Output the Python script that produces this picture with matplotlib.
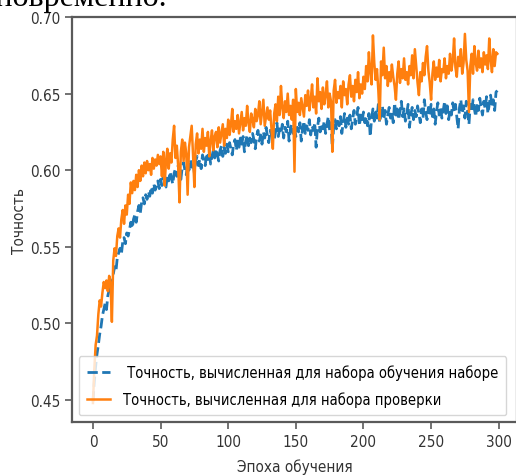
import matplotlib
matplotlib.use("Agg")
import matplotlib.pyplot as plt
from matplotlib import font_manager

epochs = list(range(300))

val_acc = [
    0.448, 0.470, 0.486, 0.492, 0.506, 0.515, 0.511, 0.520, 0.527, 0.523,
    0.528, 0.521, 0.531, 0.526, 0.501, 0.541, 0.549, 0.544, 0.557, 0.562,
    0.556, 0.568, 0.574, 0.565, 0.577, 0.571, 0.584, 0.578, 0.592, 0.585,
    0.593, 0.587, 0.597, 0.589, 0.600, 0.593, 0.603, 0.596, 0.605, 0.598,
    0.606, 0.600, 0.604, 0.597, 0.608, 0.601, 0.607, 0.603, 0.610, 0.604,
    0.609, 0.596, 0.612, 0.590, 0.606, 0.614, 0.601, 0.611, 0.605, 0.620,
    0.629, 0.608, 0.616, 0.603, 0.579, 0.612, 0.620, 0.606, 0.618, 0.611,
    0.584, 0.615, 0.622, 0.629, 0.610, 0.589, 0.617, 0.624, 0.611, 0.620,
    0.614, 0.627, 0.612, 0.621, 0.616, 0.625, 0.609, 0.619, 0.626, 0.613,
    0.622, 0.625, 0.615, 0.628, 0.618, 0.624, 0.630, 0.616, 0.627, 0.621,
    0.633, 0.623, 0.629, 0.640, 0.625, 0.632, 0.627, 0.636, 0.624, 0.631,
    0.638, 0.626, 0.634, 0.629, 0.642, 0.631, 0.625, 0.637, 0.633, 0.628,
    0.640, 0.632, 0.636, 0.645, 0.630, 0.638, 0.646, 0.629, 0.635, 0.641,
    0.633, 0.639, 0.627, 0.614, 0.637, 0.643, 0.632, 0.648, 0.636, 0.655,
    0.641, 0.634, 0.645, 0.638, 0.650, 0.636, 0.642, 0.633, 0.646, 0.599,
    0.653, 0.638, 0.644, 0.636, 0.647, 0.641, 0.635, 0.649, 0.642, 0.652,
    0.639, 0.646, 0.656, 0.641, 0.648, 0.637, 0.660, 0.645, 0.651, 0.640,
    0.654, 0.643, 0.649, 0.658, 0.641, 0.650, 0.645, 0.612, 0.652, 0.659,
    0.644, 0.651, 0.647, 0.655, 0.641, 0.658, 0.649, 0.653, 0.643, 0.656,
    0.662, 0.648, 0.655, 0.645, 0.659, 0.651, 0.664, 0.647, 0.656, 0.650,
    0.661, 0.653, 0.668, 0.658, 0.677, 0.664, 0.656, 0.688, 0.670, 0.659,
    0.666, 0.652, 0.633, 0.671, 0.662, 0.680, 0.660, 0.668, 0.655, 0.664,
    0.658, 0.669, 0.661, 0.655, 0.646, 0.663, 0.671, 0.657, 0.666, 0.660,
    0.673, 0.659, 0.664, 0.656, 0.668, 0.662, 0.675, 0.660, 0.679, 0.668,
    0.657, 0.649, 0.664, 0.658, 0.670, 0.662, 0.674, 0.681, 0.665, 0.657,
    0.646, 0.663, 0.671, 0.659, 0.667, 0.661, 0.672, 0.658, 0.666, 0.664,
    0.673, 0.660, 0.668, 0.663, 0.676, 0.665, 0.671, 0.686, 0.667, 0.661,
    0.674, 0.668, 0.679, 0.663, 0.670, 0.689, 0.672, 0.665, 0.638, 0.668,
    0.676, 0.663, 0.681, 0.670, 0.665, 0.678, 0.667, 0.673, 0.664, 0.677,
    0.669, 0.675, 0.666, 0.686, 0.672, 0.664, 0.679, 0.668, 0.677, 0.676,
]

train_acc = [
    0.449, 0.462, 0.472, 0.480, 0.486, 0.493, 0.498, 0.505, 0.509, 0.513,
    0.509, 0.518, 0.522, 0.527, 0.525, 0.532, 0.537, 0.534, 0.543, 0.546,
    0.549, 0.545, 0.553, 0.556, 0.552, 0.559, 0.557, 0.561, 0.566, 0.562,
    0.568, 0.571, 0.566, 0.573, 0.577, 0.572, 0.579, 0.582, 0.578, 0.584,
    0.581, 0.586, 0.583, 0.589, 0.585, 0.591, 0.587, 0.590, 0.593, 0.588,
    0.594, 0.590, 0.596, 0.592, 0.589, 0.597, 0.593, 0.599, 0.595, 0.591,
    0.598, 0.601, 0.596, 0.603, 0.599, 0.594, 0.602, 0.605, 0.600, 0.597,
    0.604, 0.600, 0.607, 0.602, 0.605, 0.598, 0.606, 0.609, 0.603, 0.607,
    0.601, 0.610, 0.606, 0.603, 0.611, 0.607, 0.612, 0.604, 0.609, 0.613,
    0.608, 0.614, 0.610, 0.606, 0.613, 0.616, 0.609, 0.615, 0.611, 0.617,
    0.612, 0.618, 0.614, 0.610, 0.617, 0.620, 0.613, 0.619, 0.615, 0.621,
    0.617, 0.622, 0.612, 0.619, 0.623, 0.616, 0.621, 0.618, 0.624, 0.620,
    0.614, 0.622, 0.626, 0.619, 0.623, 0.617, 0.625, 0.621, 0.628, 0.622,
    0.618, 0.626, 0.623, 0.629, 0.620, 0.625, 0.631, 0.622, 0.627, 0.624,
    0.630, 0.621, 0.628, 0.625, 0.632, 0.619, 0.627, 0.630, 0.624, 0.629,
    0.622, 0.628, 0.625, 0.631, 0.619, 0.627, 0.632, 0.624, 0.629, 0.626,
    0.633, 0.623, 0.629, 0.626, 0.631, 0.615, 0.628, 0.634, 0.625, 0.630,
    0.627, 0.632, 0.624, 0.630, 0.635, 0.626, 0.631, 0.614, 0.629, 0.633,
    0.627, 0.632, 0.629, 0.635, 0.624, 0.631, 0.637, 0.628, 0.634, 0.630,
    0.636, 0.627, 0.633, 0.639, 0.630, 0.635, 0.641, 0.629, 0.636, 0.632,
    0.638, 0.631, 0.635, 0.629, 0.637, 0.622, 0.634, 0.640, 0.632, 0.638,
    0.634, 0.643, 0.631, 0.637, 0.642, 0.633, 0.639, 0.630, 0.636, 0.641,
    0.634, 0.638, 0.631, 0.644, 0.636, 0.640, 0.633, 0.638, 0.645, 0.635,
    0.640, 0.632, 0.637, 0.643, 0.628, 0.636, 0.641, 0.633, 0.639, 0.635,
    0.642, 0.637, 0.631, 0.640, 0.634, 0.646, 0.638, 0.633, 0.641, 0.636,
    0.643, 0.635, 0.640, 0.630, 0.638, 0.644, 0.636, 0.641, 0.634, 0.639,
    0.645, 0.637, 0.642, 0.633, 0.640, 0.636, 0.644, 0.638, 0.643, 0.635,
    0.627, 0.641, 0.646, 0.637, 0.642, 0.634, 0.645, 0.639, 0.630, 0.643,
    0.638, 0.646, 0.640, 0.635, 0.644, 0.639, 0.647, 0.641, 0.636, 0.645,
    0.640, 0.648, 0.637, 0.643, 0.649, 0.641, 0.646, 0.639, 0.651, 0.652,
]

train_label = " Точность, вычисленная для набора обучения наборе"
val_label = "Точность, вычисленная для набора проверки"
x_label = "Эпоха обучения"
y_label = "Точность"
top_text = "одновременно."
x_ticks = [0, 50, 100, 150, 200, 250, 300]
y_ticks = [0.45, 0.50, 0.55, 0.60, 0.65, 0.70]

names = {f.name for f in font_manager.fontManager.ttflist}
if "Liberation Sans Narrow" in names:
    plt.rcParams["font.family"] = ["Liberation Sans Narrow", "DejaVu Sans"]
    fs = 13
    stretch = "normal"
else:
    plt.rcParams["font.family"] = ["DejaVu Sans"]
    fs = 10.5
    stretch = "condensed"
plt.rcParams["font.stretch"] = stretch

fig = plt.figure(figsize=(5.16, 4.77), dpi=100)
ax = fig.add_axes([0.1395, 0.1132, 0.8624, 0.849])

spine_col = "#5a5a5a"
ax.plot(epochs, train_acc, color="#1f77b4", linestyle="--", linewidth=2.0,
        label=train_label)
ax.plot(epochs, val_acc, color="#ff7f0e", linestyle="-", linewidth=1.8,
        label=val_label)

ax.set_xlim(-15.5, 313.5)
ax.set_ylim(0.4356, 0.70)
ax.set_xticks(x_ticks)
ax.set_yticks(y_ticks)
ax.set_yticklabels([f"{v:.2f}" for v in y_ticks])
for s in ax.spines.values():
    s.set_color(spine_col)
    s.set_linewidth(1.6)
ax.tick_params(axis="both", colors="#333333", labelsize=fs + 0.5, length=5,
               width=1.2, direction="out")
ax.tick_params(axis="both", color=spine_col)

ax.set_xlabel(x_label, fontsize=fs + 0.5, color="#333333", labelpad=7)
ax.set_ylabel(y_label, fontsize=fs + 0.5, color="#333333", labelpad=2)

leg = ax.legend(loc="lower left", fontsize=fs, frameon=True, fancybox=True,
                framealpha=0.8, edgecolor="#cccccc", handlelength=1.6,
                handletextpad=0.9, borderpad=0.55,
                borderaxespad=0.45, labelspacing=0.8)

fig.text(167 / 516, 1 - 6 / 477, top_text, ha="right", va="baseline",
         fontsize=23, family="Liberation Serif", color="black")

fig.savefig("out.png", dpi=100)
